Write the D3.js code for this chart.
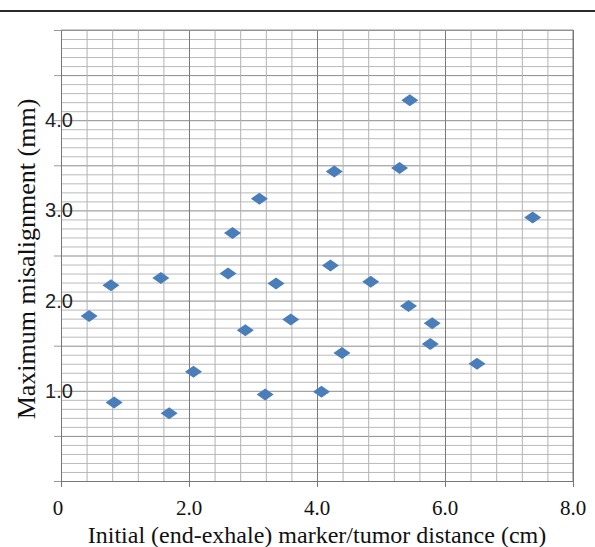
<!DOCTYPE html>
<html>
<head>
<meta charset="utf-8">
<script src="https://cdn.jsdelivr.net/npm/d3@7"></script>
<style>
  html, body { margin: 0; padding: 0; background: #fff; }
  svg { display: block; }
</style>
</head>
<body>
<div id="chart"></div>
<script>
(function scatterChart() {
    'use strict';

    /* data */

    var distance = [0.44, 0.78, 0.83, 1.56, 1.69, 2.07, 2.61, 2.68, 2.88, 3.10, 3.19, 3.36, 3.59,
                    4.07, 4.21, 4.27, 4.39, 4.84, 5.29, 5.45, 5.43, 5.80, 5.77, 6.50, 7.37];
    var misalignment = [1.83, 2.17, 0.87, 2.25, 0.75, 1.21, 2.30, 2.75, 1.67, 3.13, 0.96, 2.19, 1.79,
                        0.99, 2.39, 3.43, 1.42, 2.21, 3.47, 4.22, 1.94, 1.75, 1.52, 1.30, 2.92];

    var xTickLabels = ['0', '2.0', '4.0', '6.0', '8.0'];
    var yTickLabels = ['1.0', '2.0', '3.0', '4.0'];
    var xTitle = 'Initial (end-exhale) marker/tumor distance (cm)';
    var yTitle = 'Maximum misalignment (mm)';

    var points = distance.map(function (d, i) {
        return { x: d, y: misalignment[i] };
    });

    /* layout */

    var width = 595, height = 547;
    var plot = { left: 61, right: 573, top: 30, bottom: 481 };

    var svg = d3.select('#chart').append('svg')
        .attr('width', width)
        .attr('height', height)
    ;

    var x = d3.scaleLinear().domain([0, 8]).range([plot.left, plot.right]);
    var y = d3.scaleLinear().domain([0, 5]).range([plot.bottom, plot.top]);

    // top rule of the figure
    svg.append('line')
        .attr('x1', 0).attr('x2', width)
        .attr('y1', 11).attr('y2', 11)
        .attr('stroke', '#2a2a2a')
        .attr('stroke-width', 2)
    ;

    /* --- grid */

    var isMajor = function (v, step) {
        return Math.abs(v / step - Math.round(v / step)) < 1e-6;
    };

    var yGrid = d3.range(0, 50.5, 1).map(function (v) { return v / 10; });
    var xGrid = d3.range(0, 20.5, 1).map(function (v) { return v * 0.4; });

    svg.append('g')
        .attr('transform', 'translate(' + plot.left + ',0)')
        .call(d3.axisLeft(y).tickValues(yGrid).tickSize(-(plot.right - plot.left)).tickFormat(''))
        .call(function (g) {
            g.select('.domain').remove();
            g.selectAll('.tick line')
                .attr('stroke', function (d) { return isMajor(d, 0.5) ? '#8c8c8c' : '#bababa'; })
                .attr('stroke-width', 1);
        })
    ;

    svg.append('g')
        .attr('transform', 'translate(0,' + plot.bottom + ')')
        .call(d3.axisBottom(x).tickValues(xGrid).tickSize(-(plot.bottom - plot.top)).tickFormat(''))
        .call(function (g) {
            g.select('.domain').remove();
            g.selectAll('.tick line')
                .attr('stroke', function (d) { return isMajor(d, 2) ? '#7a7a7a' : '#b2b2b2'; })
                .attr('stroke-width', 1);
        })
    ;

    // outer ticks on major lines
    svg.append('g')
        .attr('transform', 'translate(' + plot.left + ',0)')
        .call(d3.axisLeft(y).tickValues(d3.range(0, 11).map(function (v) { return v / 2; })).tickSize(7).tickFormat(''))
        .call(function (g) {
            g.select('.domain').attr('stroke', '#777');
            g.selectAll('.tick line').attr('stroke', '#999');
        })
    ;

    svg.append('g')
        .attr('transform', 'translate(0,' + plot.bottom + ')')
        .call(d3.axisBottom(x).tickValues([0, 2, 4, 6, 8]).tickSize(6).tickFormat(''))
        .call(function (g) {
            g.select('.domain').attr('stroke', '#777');
            g.selectAll('.tick line').attr('stroke', '#777');
        })
    ;

    svg.append('line')
        .attr('x1', plot.right).attr('x2', plot.right)
        .attr('y1', plot.top).attr('y2', plot.bottom)
        .attr('stroke', '#777')
    ;
    svg.append('line')
        .attr('x1', plot.left).attr('x2', plot.right)
        .attr('y1', plot.top).attr('y2', plot.top)
        .attr('stroke', '#999')
    ;

    /* --- tick labels */

    svg.append('g').selectAll('text')
        .data(yTickLabels)
        .enter()
        .append('text')
        .attr('x', 59)
        .attr('y', function (d) { return y(+d); })
        .attr('dy', '0.35em')
        .attr('text-anchor', 'middle')
        .attr('font-family', '"Liberation Sans", Arial, sans-serif')
        .attr('font-size', 20)
        .attr('fill', '#222')
        .text(function (d) { return d; })
    ;

    svg.append('g').selectAll('text')
        .data(xTickLabels)
        .enter()
        .append('text')
        .attr('x', function (d) { return x(+d) - (d === '0' ? 3 : 0); })
        .attr('y', 515)
        .attr('text-anchor', 'middle')
        .attr('font-family', '"Liberation Serif", "Times New Roman", serif')
        .attr('font-size', 21)
        .attr('fill', '#111')
        .text(function (d) { return d; })
    ;

    /* --- axis titles */

    svg.append('text')
        .attr('x', 317)
        .attr('y', 543)
        .attr('text-anchor', 'middle')
        .attr('font-family', '"Liberation Serif", "Times New Roman", serif')
        .attr('font-size', 24)
        .attr('fill', '#111')
        .text(xTitle)
    ;

    svg.append('text')
        .attr('transform', 'translate(35,259) rotate(-90)')
        .attr('text-anchor', 'middle')
        .attr('font-family', '"Liberation Serif", "Times New Roman", serif')
        .attr('font-size', 26)
        .attr('fill', '#111')
        .text(yTitle)
    ;

    /* --- markers */

    svg.append('g').selectAll('path')
        .data(points)
        .enter()
        .append('path')
        .attr('d', 'M-8.5,0L0,-6L8.5,0L0,6Z')
        .attr('transform', function (d) { return 'translate(' + x(d.x) + ',' + y(d.y) + ')'; })
        .attr('fill', '#4a7ebb')
    ;
})();
</script>
</body>
</html>
